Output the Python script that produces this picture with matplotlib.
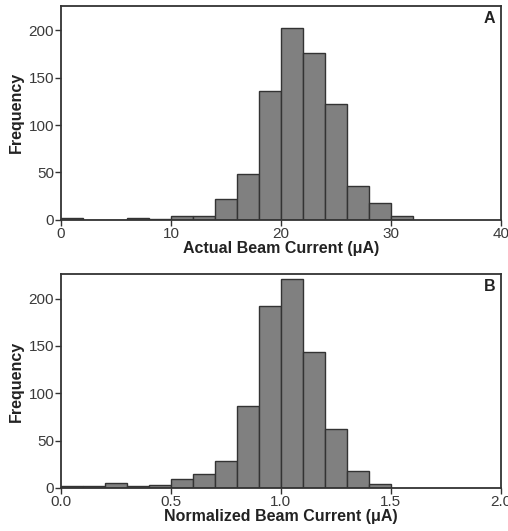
import matplotlib
matplotlib.use('Agg')
import matplotlib.pyplot as plt
import numpy as np

plt.rcParams['font.family'] = ['Liberation Sans', 'DejaVu Sans']

# panel A: actual beam current, 2 uA bins
edges_a = np.arange(0, 34, 2)
counts_a = [2, 0, 0, 2, 1, 4, 4, 22, 48, 136, 203, 176, 122, 36, 18, 4]

# panel B: normalized beam current, 0.1 bins
edges_b = np.round(np.arange(0, 1.55, 0.1), 2)
counts_b = [2, 2, 5, 2, 3, 9, 15, 28, 87, 192, 221, 144, 62, 18, 4]

panels = [
    (edges_a, counts_a, 'Actual Beam Current (\u03bcA)', (0, 40), [0, 10, 20, 30, 40], ['0', '10', '20', '30', '40'], 'A'),
    (edges_b, counts_b, 'Normalized Beam Current (\u03bcA)', (0, 2), [0, 0.5, 1.0, 1.5, 2.0], ['0.0', '0.5', '1.0', '1.5', '2.0'], 'B'),
]

fig = plt.figure(figsize=(5.08, 5.31), dpi=100)
rects = [[0.120, 0.586, 0.866, 0.403], [0.120, 0.081, 0.866, 0.403]]

for rect, (edges, counts, xlabel, xlim, xt, xtl, tag) in zip(rects, panels):
    ax = fig.add_axes(rect)
    ax.hist(edges[:-1], bins=edges, weights=counts, color='#808080',
            edgecolor='#333333', linewidth=1.0)
    ax.set_xlim(*xlim)
    ax.set_ylim(0, 226)
    ax.set_xticks(xt)
    ax.set_xticklabels(xtl)
    ax.set_yticks([0, 50, 100, 150, 200])
    ax.tick_params(axis='both', labelsize=11, colors='#333333', length=4,
                   width=1, direction='out', pad=1)
    ax.tick_params(labelcolor='#3a3a3a')
    for s in ax.spines.values():
        s.set_color('#333333')
        s.set_linewidth(1.3)
    ax.set_xlabel(xlabel, fontsize=11.5, fontweight='bold', color='#222222', labelpad=0)
    ax.set_ylabel('Frequency', fontsize=11.5, fontweight='bold', color='#222222', labelpad=3)
    ax.text(0.987, 0.975, tag, transform=ax.transAxes, ha='right', va='top',
            fontsize=11.5, fontweight='bold', color='#222222')

fig.savefig('out.png', dpi=100)
